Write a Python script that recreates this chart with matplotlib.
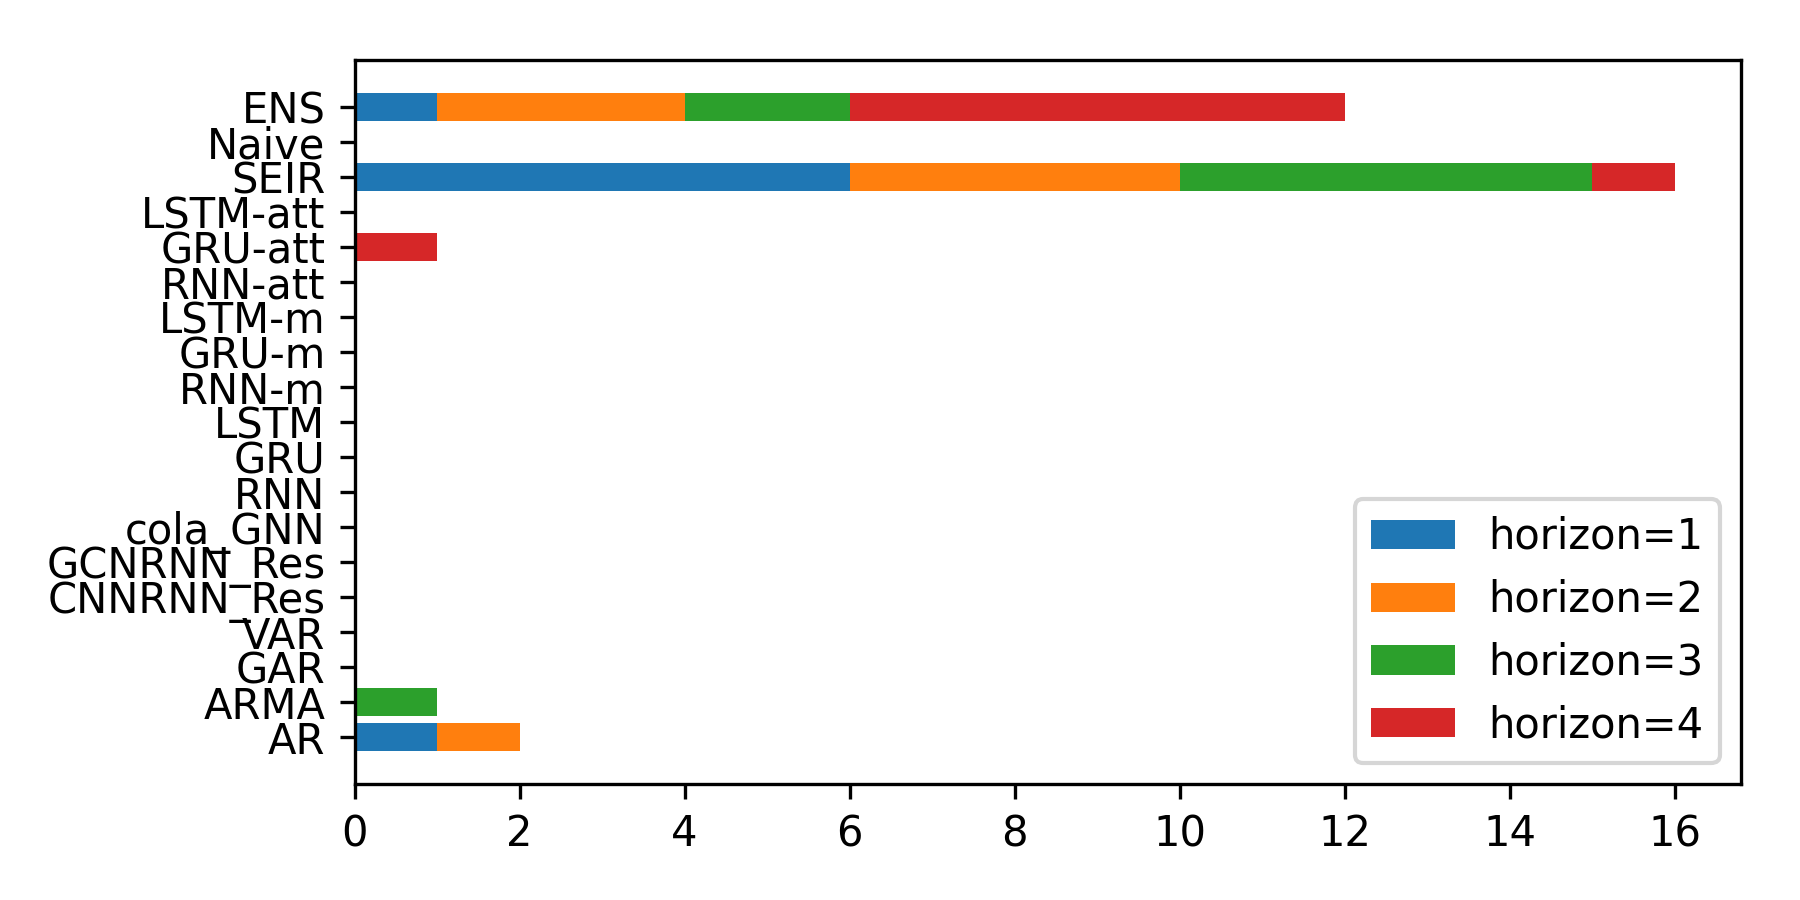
import numpy as np
import matplotlib
matplotlib.use("Agg")
import matplotlib.pyplot as plt

models = ["AR", "ARMA", "GAR", "VAR", "CNNRNN_Res", "GCNRNN_Res", "cola_GNN",
          "RNN", "GRU", "LSTM", "RNN-m", "GRU-m", "LSTM-m",
          "RNN-att", "GRU-att", "LSTM-att", "SEIR", "Naive", "ENS"]

# counts per horizon, same order as models
h1 = [1, 0, 0, 0, 0, 0, 0, 0, 0, 0, 0, 0, 0, 0, 0, 0, 6, 0, 1]
h2 = [1, 0, 0, 0, 0, 0, 0, 0, 0, 0, 0, 0, 0, 0, 0, 0, 4, 0, 3]
h3 = [0, 1, 0, 0, 0, 0, 0, 0, 0, 0, 0, 0, 0, 0, 0, 0, 5, 0, 2]
h4 = [0, 0, 0, 0, 0, 0, 0, 0, 0, 0, 0, 0, 0, 0, 1, 0, 1, 0, 6]

series = [h1, h2, h3, h4]
labels = ["horizon=1", "horizon=2", "horizon=3", "horizon=4"]

fig = plt.figure(figsize=(6, 3), dpi=300)
ax = fig.add_axes([0.197, 0.129, 0.77, 0.804])

y = np.arange(len(models))
left = np.zeros(len(models))
for vals, lab in zip(series, labels):
    vals = np.array(vals, dtype=float)
    ax.barh(y, vals, left=left, label=lab)
    left += vals

ax.set_yticks(y)
ax.set_yticklabels(models)
ax.legend(loc="lower right")

fig.savefig("out.png", dpi=300)
